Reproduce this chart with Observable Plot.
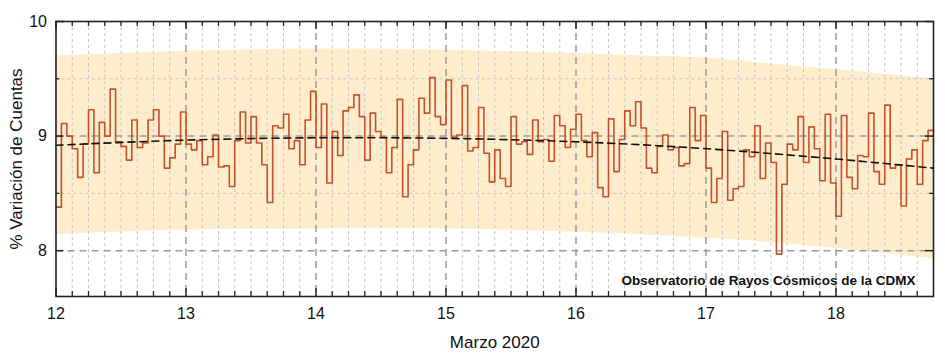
<!DOCTYPE html>
<html><head><meta charset="utf-8">
<script src="https://cdn.jsdelivr.net/npm/d3@7"></script>
<script src="https://cdn.jsdelivr.net/npm/@observablehq/plot@0.6"></script>
<style>
body{margin:0;background:#fff;}
#chart svg{font-family:"Liberation Sans",Arial,sans-serif;}
</style>
</head><body><div id="chart"></div>
<script>
// ---- data ----
const startDay = 12;          // 12 de marzo, 00:00
const stepsPerDay = 24;       // hourly counts
const endDay = 18.75;
const counts = [
  8.38, 9.11, 9.00, 8.89, 8.64, 8.93, 9.23, 8.68, 9.12, 9.00, 9.41, 8.95, 8.91, 8.79, 9.14, 8.90, 8.94, 9.14, 9.23, 9.00, 8.72, 8.81, 8.93, 9.21,
  8.93, 8.88, 8.96, 8.75, 8.82, 9.01, 8.73, 8.74, 8.56, 8.96, 9.21, 8.94, 9.17, 8.94, 8.75, 8.42, 9.09, 9.07, 9.19, 8.89, 8.96, 8.75, 9.14, 9.39,
  8.90, 9.28, 8.59, 9.04, 8.83, 9.22, 9.25, 9.36, 9.17, 8.79, 9.20, 9.04, 8.99, 8.68, 8.90, 9.32, 8.47, 8.75, 8.88, 9.33, 9.20, 9.51, 9.17, 9.10,
  9.49, 8.99, 9.01, 9.44, 8.87, 8.90, 9.25, 8.85, 8.60, 8.88, 8.63, 8.56, 9.17, 8.93, 8.95, 8.84, 9.14, 8.95, 8.97, 8.78, 9.18, 9.09, 8.90, 9.06,
  9.19, 8.96, 8.82, 9.03, 8.55, 8.47, 9.15, 8.69, 8.97, 9.22, 9.09, 9.30, 9.07, 8.72, 8.68, 8.91, 9.01, 8.88, 8.90, 8.74, 8.76, 9.25, 8.96, 9.18,
  8.72, 8.42, 8.63, 9.04, 8.44, 8.54, 8.56, 8.88, 8.82, 9.09, 8.63, 8.94, 8.77, 7.97, 8.58, 8.93, 8.88, 9.17, 8.77, 9.08, 8.89, 8.61, 9.19, 8.59,
  8.30, 9.18, 8.64, 8.54, 8.83, 8.82, 9.20, 8.69, 8.58, 9.27, 8.72, 8.75, 8.39, 8.80, 8.88, 8.58, 8.96, 9.05
];
const trendDays   = [12, 13, 14, 15, 16, 17, 18, 18.75];
const trendValues = [8.92, 8.965, 8.985, 8.98, 8.95, 8.89, 8.80, 8.72];
const bandDays  = [12, 13, 14, 15, 16, 16.5, 17, 17.5, 18, 18.75];
const bandUpper = [9.70, 9.74, 9.76, 9.75, 9.72, 9.70, 9.68, 9.63, 9.58, 9.50];
const bandLower = [8.14, 8.18, 8.19, 8.19, 8.16, 8.14, 8.11, 8.07, 8.02, 7.93];
const dayTicks = [12, 13, 14, 15, 16, 17, 18];
const yTicks = [8, 9, 10];
const yMinorTicks = [8.5, 9.5];
const xLabel = "Marzo 2020";
const yLabel = "% Variación de Cuentas";
const note = "Observatorio de Rayos Cósmicos de la CDMX";

// ---- tables built from the arrays ----
const steps = counts.map((v, i) => ({x: startDay + i / stepsPerDay, y: v}));
steps.push({x: endDay, y: counts[counts.length - 1]});
const trend = trendDays.map((d, i) => ({x: d, y: trendValues[i]}));
const band = bandDays.map((d, i) => ({x: d, lo: bandLower[i], hi: bandUpper[i]}));
const minorX = d3.range(0, 55).map(k => startDay + k / 8).filter(d => d % 1 !== 0 && d < endDay);

// ---- layout ----
const W = 945, H = 356, mL = 55.5, mR = 12, mT = 21, mB = 60;
const iw = W - mL - mR, ih = H - mT - mB;
const ink = "#222";

const chart = Plot.plot({
  width: W, height: H,
  marginLeft: mL, marginRight: mR, marginTop: mT, marginBottom: mB,
  x: {domain: [startDay, endDay]},
  y: {domain: [7.6, 10]},
  style: {fontFamily: "'Liberation Sans', Arial, sans-serif", fontSize: "16px", color: "#111", background: "#fff"},
  marks: [
    Plot.areaY(band, {x: "x", y1: "lo", y2: "hi", fill: "#fdedcc", curve: "natural"}),
    Plot.ruleX(minorX, {stroke: "#c4c4c4", strokeWidth: 1, strokeDasharray: "3,3"}),
    Plot.ruleY(yMinorTicks, {stroke: "#c4c4c4", strokeWidth: 1, strokeDasharray: "3,3"}),
    Plot.ruleX(dayTicks.slice(1), {stroke: "#9a9a9a", strokeWidth: 1.5, strokeDasharray: "7,5"}),
    Plot.ruleY([8, 9], {stroke: "#9a9a9a", strokeWidth: 1.5, strokeDasharray: "7,5"}),
    Plot.line(steps, {x: "x", y: "y", curve: "step-after", stroke: "#c4512b", strokeWidth: 1.6}),
    Plot.line(trend, {x: "x", y: "y", curve: "natural", stroke: "#111", strokeWidth: 1.6, strokeDasharray: "7,5"}),
    // inward tick marks
    Plot.tickX(dayTicks, {insetTop: ih - 8, stroke: ink, strokeWidth: 1.5}),
    Plot.tickX(dayTicks, {insetBottom: ih - 8, stroke: ink, strokeWidth: 1.5}),
    Plot.tickX(minorX, {insetTop: ih - 5, stroke: ink, strokeWidth: 1.3}),
    Plot.tickX(minorX, {insetBottom: ih - 5, stroke: ink, strokeWidth: 1.3}),
    Plot.tickY(yTicks, {insetRight: iw - 8, stroke: ink, strokeWidth: 1.5}),
    Plot.tickY(yTicks, {insetLeft: iw - 8, stroke: ink, strokeWidth: 1.5}),
    Plot.tickY(yMinorTicks, {insetRight: iw - 4, stroke: ink, strokeWidth: 1.3}),
    Plot.tickY(yMinorTicks, {insetLeft: iw - 4, stroke: ink, strokeWidth: 1.3}),
    Plot.frame({stroke: ink, strokeWidth: 1.6}),
    Plot.axisX(dayTicks, {tickSize: 0, tickPadding: 11, fontSize: 16, label: null, tickFormat: d => String(d)}),
    Plot.axisY(yTicks, {tickSize: 0, tickPadding: 9, fontSize: 16, label: null, tickFormat: d => String(d)}),
    Plot.text([yLabel], {frameAnchor: "left", rotate: -90, dx: -39, textAnchor: "middle", lineAnchor: "middle", text: d => d, fontSize: 17, fill: "#111"}),
    Plot.text([xLabel], {frameAnchor: "bottom", dy: 46, textAnchor: "middle", lineAnchor: "middle", text: d => d, fontSize: 17, fill: "#111"}),
    Plot.text([note], {frameAnchor: "bottom-right", dx: -18, dy: -16, textAnchor: "end", lineAnchor: "middle", text: d => d, fontSize: 13.5, fontWeight: "bold", fill: "#111"})
  ]
});
document.getElementById("chart").appendChild(chart);
</script>
</body></html>
